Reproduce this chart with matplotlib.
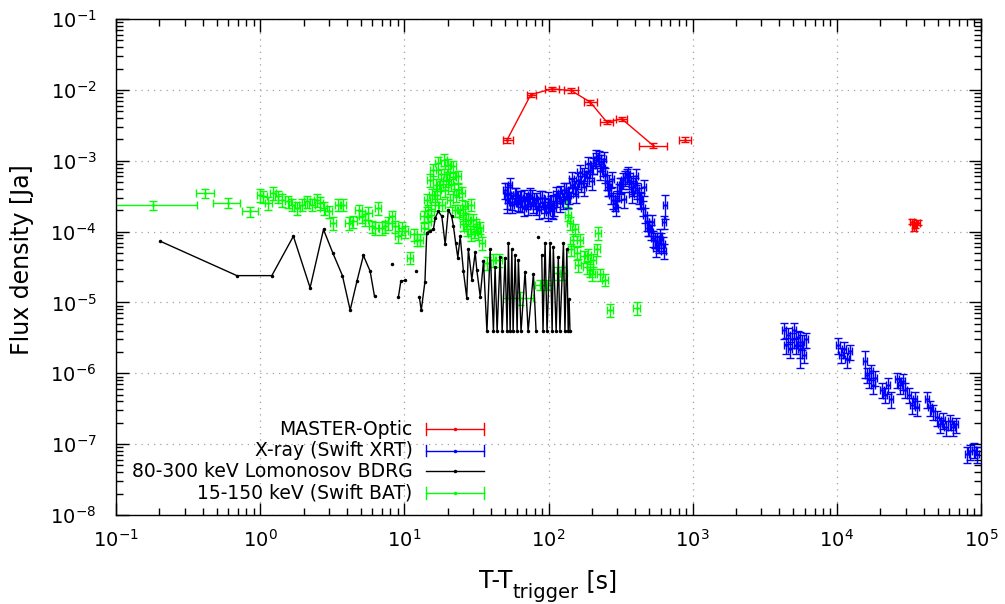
import numpy as np
import matplotlib
matplotlib.use("Agg")
import matplotlib.pyplot as plt
from matplotlib.ticker import FixedLocator, LogLocator, LogFormatterSciNotation, NullFormatter

nan = np.nan

# ---------------- MASTER optical (red) ----------------
master_t   = [51.4, 75.4, 105, 143.5, 195, 254, 322, 534, 885]
master_f   = [1.94e-3, 8.55e-3, 1.03e-2, 9.8e-3, 6.7e-3, 3.5e-3, 3.9e-3, 1.63e-3, 1.99e-3]
master_tlo = [48.4, 70.5, 95, 129, 177, 228, 294, 424, 806]
master_thi = [56.9, 82, 119, 160, 218, 281, 351, 664, 966]
master_df  = [1.5e-4, 6e-4, 7e-4, 7e-4, 5e-4, 2.5e-4, 3e-4, 1.2e-4, 1.5e-4]
master_n_connected = 8
master2_t  = [33200, 34900, 36600, 34300]
master2_f  = [1.38e-4, 1.26e-4, 1.34e-4, 1.14e-4]
master2_dt = [1200, 1200, 1200, 1200]
master2_df = [1.2e-5, 1.2e-5, 1.2e-5, 1.2e-5]

# ---------------- Swift XRT (blue) ----------------
xrt_t = [50.0, 51.9, 53.9, 55.9, 58.7, 61.5, 64.6, 67.7, 71.0, 74.5,
         78.2, 82.0, 86.1, 90.3, 94.7, 99.4, 104.2, 109.4, 114.7, 120.3,
         126.3, 132.4, 139.0, 145.8, 152.9, 160.5, 168.3, 176.6, 185.2, 194.3,
         203.9, 213.9, 224.4, 231.7, 239.2, 246.9, 254.9, 263.2, 271.8, 280.5,
         289.7, 299.1, 308.8, 318.8, 329.1, 339.8, 350.9, 362.2, 374.0, 386.1,
         398.7, 411.5, 425.0, 438.7, 452.9, 467.7, 482.8, 498.4, 514.6, 531.4,
         548.6, 566.3, 584.7, 603.7, 623.2,
         52.0, 55.5, 59.1, 63.0, 67.2, 71.6, 76.4, 81.4, 86.8, 92.5,
         98.6, 105.1, 112.0, 119.4, 127.3, 135.7, 144.6, 154.2, 164.3, 175.1,
         186.7, 199.0, 212.1, 226.1, 241.0, 257.0, 273.9, 291.9, 311.2, 331.7,
         353.6, 376.9, 401.8, 428.2, 456.5, 486.7, 518.8, 553.0, 589.5, 628.4,
         4300, 4450, 4590, 4730, 4890, 5050, 5210, 5380, 5560, 5740,
         5930, 6110, 10200, 10700, 11200, 11800, 12400, 16200, 16700, 17300,
         17800, 18400, 20600, 21600, 22600, 23800, 26200, 27400, 28800, 29700,
         31700, 33200, 34900, 36000, 42300, 44300, 46400, 49500, 52000, 54500,
         57200, 61000, 64000, 67100, 80000, 83900, 89400, 93800]
xrt_f = [3.9e-4, 2.8e-4, 4.6e-4, 2.4e-4, 3.3e-4, 2.56e-4, 3.0e-4, 2.18e-4, 2.8e-4, 3.3e-4,
         2.4e-4, 2.8e-4, 2.0e-4, 3.0e-4, 2.4e-4, 1.91e-4, 2.56e-4, 2.18e-4, 3.0e-4, 3.55e-4,
         2.8e-4, 3.9e-4, 3.3e-4, 4.6e-4, 4.2e-4, 5.4e-4, 4.9e-4, 6.4e-4, 5.8e-4, 7.5e-4,
         8.8e-4, 1.04e-3, 1.11e-3, 9.7e-4, 8.0e-4, 6.4e-4, 5.1e-4, 4.2e-4, 3.3e-4, 2.8e-4,
         2.56e-4, 3.0e-4, 3.7e-4, 4.6e-4, 5.4e-4, 5.8e-4, 6.2e-4, 5.4e-4, 4.9e-4, 4.2e-4,
         4.6e-4, 3.9e-4, 3.3e-4, 2.8e-4, 2.18e-4, 1.74e-4, 1.38e-4, 1.14e-4, 1.0e-4, 8.2e-5,
         7.7e-5, 7.0e-5, 6.6e-5, 7.7e-5, 6.6e-5,
         3.4e-4, 2.65e-4, 3.25e-4, 2.5e-4, 3.1e-4, 2.28e-4, 3.1e-4, 2.28e-4, 3.0e-4, 2.1e-4,
         2.9e-4, 2.05e-4, 3.4e-4, 2.5e-4, 3.9e-4, 2.9e-4, 5.6e-4, 3.4e-4, 7.0e-4, 4.2e-4,
         9.1e-4, 5.2e-4, 1.14e-3, 7.1e-4, 1.07e-3, 4.2e-4, 5.6e-4, 2.18e-4, 4.5e-4, 2.9e-4,
         6.6e-4, 3.4e-4, 6.1e-4, 2.9e-4, 4.3e-4, 1.14e-4, 1.38e-4, 5.9e-5, 8.8e-5, 5.4e-5,
         4.1e-6, 2.5e-6, 3.5e-6, 2.2e-6, 3.0e-6, 4.1e-6, 2.5e-6, 3.2e-6, 2.2e-6, 2.8e-6,
         1.84e-6, 3.0e-6, 2.5e-6, 1.84e-6, 2.2e-6, 1.57e-6, 2.03e-6, 9.6e-7, 8.2e-7, 1.06e-6,
         6.9e-7, 8.7e-7, 5.9e-7, 5.0e-7, 6.9e-7, 4.3e-7, 8.2e-7, 6.9e-7, 7.7e-7, 5.9e-7,
         5.0e-7, 3.6e-7, 4.3e-7, 3.3e-7, 4.3e-7, 3.3e-7, 2.9e-7, 2.38e-7, 1.9e-7, 2.2e-7,
         1.72e-7, 2.09e-7, 1.72e-7, 1.9e-7, 7.2e-8, 7.9e-8, 8.4e-8, 7.2e-8]
xrt_w_t  = [51.9, 63.5, 107, 633, 644, 5560, 15700]
xrt_w_f  = [3.3e-4, 2.8e-4, 2.4e-4, 1.38e-4, 2.4e-4, 2.5e-6, 1.47e-6]
xrt_w_dt = [3, 4, 5, 25, 25, 300, 500]
xrt_w_df = [1.5e-4, 0.9e-4, 0.9e-4, 0.3e-4, 0.9e-4, 1.3e-6, 0.6e-6]
XRT_DT_FRAC = 0.035
XRT_DF_FRAC = 0.25

# ---------------- Lomonosov BDRG (black) ----------------
bdrg_t = [0.203, 0.689, 1.205, 1.70, 2.22, 2.75, 3.19, 3.72, 4.21, 4.69,
          5.20, 5.79, 6.21, nan, 8.19, nan, 9.10, 9.46, 10.1, nan,
          12.0, nan, 12.7, 13.1, 13.9, 14.3, 15.1, 15.9, 16.4, 17.2,
          18.2, 19.2, 20.2, 21.3, 21.9, 22.7, 23.5, 24.4, 25.7, 27.1,
          27.8, 29.4, 31.0, 31.8, 33.6, 35.4, 37.4, 39.4, 41.5, 42.6,
          44.0, 46.2, 47.7, 50.0, 51.6, 52.7, 54.2, 55.7, 56.8, 58.7,
          60.6, 61.8, 64.5, 68.8, 72.2, 78.6, 82.0, nan, 85.1, nan,
          89.8, 91.6, 94.7, 97.7, 102.6, 106, 108, 113, 117, 120,
          127, 130, 134, 137, 139, 141]
bdrg_f = [7.3e-5, 2.39e-5, 2.39e-5, 8.6e-5, 1.61e-5, 1.07e-4, 5.0e-5, 2.39e-5, 7.8e-6, 1.99e-5,
          4.6e-5, 2.76e-5, 1.22e-5, nan, 3.5e-5, nan, 1.20e-5, 2.0e-5, 2.04e-5, nan,
          2.82e-5, nan, 1.21e-5, 7.7e-6, 1.97e-5, 9.7e-5, 1.01e-4, 1.07e-4, 1.57e-4, 1.93e-4,
          1.64e-4, 6.6e-5, 2.04e-4, 1.64e-4, 1.19e-4, 6.9e-5, 4.3e-5, 8.6e-5, 2.76e-5, 1.16e-5,
          5.6e-5, 2.1e-5, 5.1e-5, 2.9e-5, 1.21e-5, 3.8e-5, 3.9e-6, 5.6e-5, 3.9e-6, 3.2e-5,
          3.9e-6, 4.4e-5, 3.9e-6, 4.3e-5, 3.9e-6, 7.0e-5, 3.9e-6, 5.6e-5, 3.9e-6, 4.7e-5,
          3.9e-6, 4.0e-5, 3.9e-6, 2.73e-5, 3.9e-6, 2.5e-5, 3.9e-6, nan, 8.5e-5, nan,
          4.7e-5, 3.9e-6, 7.0e-5, 3.9e-6, 7.0e-5, 3.9e-6, 6.1e-5, 3.9e-6, 4.4e-5, 3.9e-6,
          7.0e-5, 3.9e-6, 5.6e-5, 3.9e-6, 1.1e-5, 3.9e-6]

# ---------------- Swift BAT (green) ----------------
bat_w_t  = [0.181, 0.416, 0.600, 0.853, 63.5, 87.4, 97.3]
bat_w_f  = [2.35e-4, 3.5e-4, 2.54e-4, 1.93e-4, 1.16e-5, 1.79e-5, 1.79e-5]
bat_w_dt = [0.185, 0.06, 0.13, 0.11, 15, 7, 8]
bat_w_df = [0.35e-4, 0.5e-4, 0.4e-4, 0.3e-4, 0.25e-5, 0.3e-5, 0.3e-5]
bat_t = [1.00, 1.054, 1.142, 1.236, 1.34, 1.41, 1.57, 1.66, 1.80, 1.95,
         2.11, 2.28, 2.47, 2.61, 2.75, 2.98, 3.22, 3.49, 3.78, 4.10,
         4.44, 4.81, 5.07, 5.35, 5.64, 5.95, 6.27, 6.61, 6.98, 7.36,
         7.76, 8.19, 8.63, 9.10, 9.61, 10.1, 11.0, 11.6, 12.2, 12.9,
         13.6, 14.3, 14.6, 15.1, 15.6, 15.9, 16.6, 17.2, 18.0, 18.7,
         19.5, 20.2, 21.1, 21.9, 22.9, 23.7, 24.4, 25.0, 25.6, 26.4,
         27.8, 29.0, 30.1, 31.5, 32.6, 34.5, 37.4, 41.5, 45.0, 114,
         127, 134, 137, 141, 144, 149, 153, 157, 160, 166,
         175, 184, 188, 194, 201, 205, 216, 222, 228, 247,
         267, 409,
         13.8, 14.5, 15.3, 16.2, 16.9, 17.6, 18.3, 19.0, 19.8, 20.8,
         21.6, 22.5, 23.4, 25.4, 27.3, 28.8, 30.5, 33.6]
bat_f = [3.3e-4, 3.15e-4, 2.54e-4, 3.5e-4, 3.15e-4, 2.8e-4, 2.67e-4, 2.4e-4, 2.16e-4, 2.4e-4,
         2.67e-4, 2.4e-4, 2.8e-4, 2.54e-4, 2.16e-4, 1.93e-4, 1.33e-4, 2.4e-4, 2.4e-4, 1.33e-4,
         1.40e-4, 2.0e-4, 1.64e-4, 1.48e-4, 1.84e-4, 1.19e-4, 1.13e-4, 2.16e-4, 1.13e-4, 1.19e-4,
         1.33e-4, 1.64e-4, 1.19e-4, 8.6e-5, 1.13e-4, 1.01e-4, 4.3e-5, 9.1e-5, 7.7e-5, 7.7e-5,
         1.64e-4, 2.8e-4, 2.0e-4, 5.4e-4, 3.3e-4, 7.5e-4, 4.6e-4, 9.3e-4, 6.4e-4, 1.04e-3,
         5.4e-4, 8.8e-4, 4.6e-4, 8.3e-4, 3.3e-4, 6.0e-4, 2.0e-4, 3.5e-4, 1.26e-4, 2.28e-4,
         1.48e-4, 9.1e-5, 1.48e-4, 1.26e-4, 9.6e-5, 6.9e-5, 3.6e-5, 4.0e-5, 4.0e-5, 2.6e-5,
         2.6e-5, 2.8e-4, 1.74e-4, 1.33e-4, 5.6e-5, 7.7e-5, 1.07e-4, 5.0e-5, 3.4e-5, 7.7e-5,
         4.5e-5, 3.2e-5, 4.7e-5, 2.9e-5, 2.5e-5, 4.0e-5, 5.6e-5, 9.6e-5, 2.5e-5, 2.1e-5,
         7.9e-6, 8.4e-6,
         1.14e-4, 1.38e-4, 1.74e-4, 2.4e-4, 3.3e-4, 4.6e-4, 2.4e-4, 3.9e-4, 6.4e-4, 2.8e-4,
         5.8e-4, 2.0e-4, 3.9e-4, 1.74e-4, 1.07e-4, 2.4e-4, 1.0e-4, 1.14e-4]
BAT_DT_FRAC = 0.05
BAT_DF_FRAC = 0.2

# ---------------- Axes / labels ----------------
x_limits = (1e-1, 1e5)
y_limits = (1e-8, 1e-1)
x_major = [1e-1, 1e0, 1e1, 1e2, 1e3, 1e4, 1e5]
y_major = [1e-8, 1e-7, 1e-6, 1e-5, 1e-4, 1e-3, 1e-2, 1e-1]
x_label_parts = ("T-T", "trigger", " [s]")
y_label = "Flux density [Ja]"
legend_labels = ["MASTER-Optic", "X-ray (Swift XRT)",
                 "80-300 keV Lomonosov BDRG", "15-150 keV (Swift BAT)"]

RED, BLUE, BLACK, GREEN = "#ff0000", "#0000ff", "#000000", "#00ff00"

W, H = 1005, 604
fig = plt.figure(figsize=(W / 100, H / 100), dpi=100)
ax = fig.add_axes([116 / W, 89 / H, 865 / W, 496 / H])
ax.set_xscale("log")
ax.set_yscale("log")
ax.set_xlim(*x_limits)
ax.set_ylim(*y_limits)

eb_kw = dict(fmt=".", markersize=2, elinewidth=1.0, capsize=3, capthick=1.0, linewidth=1.0)

# green BAT
bt = np.array(bat_t); bf = np.array(bat_f)
ax.errorbar(bt, bf, xerr=bt * BAT_DT_FRAC, yerr=bf * BAT_DF_FRAC, color=GREEN, zorder=2, **eb_kw)
ax.errorbar(bat_w_t, bat_w_f, xerr=bat_w_dt, yerr=bat_w_df, color=GREEN, zorder=2, **eb_kw)

# black BDRG
ax.plot(bdrg_t, bdrg_f, "-", color=BLACK, lw=1.0, marker=".", markersize=3, zorder=3)

# blue XRT
xt = np.array(xrt_t); xf = np.array(xrt_f)
ax.errorbar(xt, xf, xerr=xt * XRT_DT_FRAC, yerr=xf * XRT_DF_FRAC, color=BLUE, zorder=4, **eb_kw)
ax.errorbar(xrt_w_t, xrt_w_f, xerr=xrt_w_dt, yerr=xrt_w_df, color=BLUE, zorder=4, **eb_kw)

# red MASTER
mt = np.array(master_t); mf = np.array(master_f)
xerr_m = [mt - np.array(master_tlo), np.array(master_thi) - mt]
ax.errorbar(mt, mf, xerr=xerr_m, yerr=master_df, color=RED, zorder=5, **eb_kw)
ax.plot(mt[:master_n_connected], mf[:master_n_connected], "-", color=RED, lw=1.0, zorder=5)
ax.errorbar(master2_t, master2_f, xerr=master2_dt, yerr=master2_df, color=RED, zorder=5, **eb_kw)

# ticks / grid
ax.xaxis.set_major_locator(FixedLocator(x_major))
ax.yaxis.set_major_locator(FixedLocator(y_major))
for axis in (ax.xaxis, ax.yaxis):
    axis.set_minor_locator(LogLocator(base=10, subs=np.arange(2, 10), numticks=20))
    axis.set_minor_formatter(NullFormatter())
    axis.set_major_formatter(LogFormatterSciNotation())
ax.set_xlim(*x_limits)
ax.set_ylim(*y_limits)
ax.tick_params(which="both", direction="in", top=True, right=True, colors="black")
ax.tick_params(which="major", length=9, width=1.0, labelsize=14)
ax.tick_params(which="minor", length=5, width=1.0)
ax.tick_params(axis="x", which="major", pad=10)
ax.tick_params(axis="y", which="major", pad=14)
ax.grid(True, which="major", linestyle=(0, (1, 4)), color="#a0a0a0", linewidth=0.9)
ax.set_axisbelow(True)
for s in ax.spines.values():
    s.set_linewidth(1.0)

# y label
fig.text(22 / W, 1 - 260 / H, y_label, rotation=90, ha="center", va="center", fontsize=17)

# x label built from pieces (gnuplot-like large subscript)
renderer = fig.canvas.get_renderer()
base_y = 1 - 588 / H
sub_y = 1 - 598 / H
x0_px = 470
p1 = fig.text(x0_px / W, base_y, x_label_parts[0], fontsize=17, va="baseline", ha="left")
p2 = fig.text(x0_px / W, sub_y, x_label_parts[1], fontsize=14, va="baseline", ha="left")
p3 = fig.text(x0_px / W, base_y, x_label_parts[2], fontsize=17, va="baseline", ha="left")
widths = [p.get_window_extent(renderer).width for p in (p1, p2, p3)]
x0 = 548 - sum(widths) / 2
for p, w in zip((p1, p2, p3), widths):
    p.set_x(x0 / W)
    x0 += w

# manual legend (gnuplot style: text right, sample on the right)
tx = 0.343
lx0, lx1 = 0.358, 0.4254
rows = [0.173, 0.130, 0.088, 0.0437]
cols = [RED, BLUE, BLACK, GREEN]
for lab, yy, c in zip(legend_labels, rows, cols):
    ax.text(tx, yy, lab, transform=ax.transAxes, ha="right", va="center", fontsize=13.5)
    ax.plot([lx0, lx1], [yy, yy], color=c, lw=1.0, transform=ax.transAxes, clip_on=False)
    ax.plot([(lx0 + lx1) / 2], [yy], color=c, marker=".", markersize=3, transform=ax.transAxes)
    if c != BLACK:
        for xe in (lx0, lx1):
            ax.plot([xe, xe], [yy - 0.012, yy + 0.012], color=c, lw=1.0, transform=ax.transAxes)

fig.savefig("out.png", dpi=100)
